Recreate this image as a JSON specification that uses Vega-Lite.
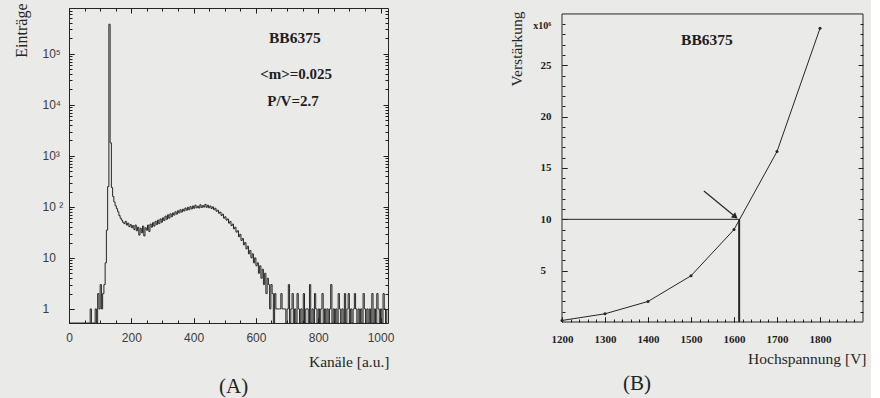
{
  "$schema": "https://vega.github.io/schema/vega-lite/v6.json",
  "background": "#eaeae8",
  "padding": {"left": 12, "top": 2, "right": 5, "bottom": 2},
  "bounds": "flush",
  "spacing": 174,
  "config": {
    "view": {"stroke": "#262626", "strokeWidth": 1},
    "axis": {
      "domain": false, "grid": false, "labelFlush": false, "labelOverlap": false,
      "tickColor": "#1e1e1e", "tickWidth": 1,
      "gridColor": "#1e1e1e", "gridWidth": 1, "gridOpacity": 1,
      "labelColor": "#3c3c3c", "titleColor": "#262626",
      "titleFont": "Liberation Serif", "titleFontWeight": "normal", "titleFontSize": 15.5
    }
  },
  "hconcat": [
    {
      "width": 319, "height": 315,
      "title": {"text": "(A)", "orient": "bottom", "frame": "group", "anchor": "start", "dx": 150, "offset": 6,
        "font": "Liberation Serif", "fontSize": 21, "fontWeight": "normal", "color": "#222222"},
      "data": {"values": [
        {"k":0,"n":0},{"k":4,"n":0},{"k":8,"n":0},{"k":12,"n":0},{"k":16,"n":0},{"k":20,"n":0},{"k":24,"n":0},{"k":28,"n":0},
        {"k":32,"n":0},{"k":36,"n":0},{"k":40,"n":0},{"k":44,"n":0},{"k":48,"n":0},{"k":52,"n":0},{"k":56,"n":0},{"k":60,"n":0},
        {"k":64,"n":0},{"k":68,"n":1},{"k":72,"n":0},{"k":76,"n":0},{"k":80,"n":0},{"k":84,"n":1},{"k":88,"n":0},{"k":92,"n":2},
        {"k":96,"n":1},{"k":100,"n":3},{"k":104,"n":1},{"k":108,"n":2},{"k":112,"n":3},{"k":116,"n":8},{"k":120,"n":35},{"k":124,"n":250},
        {"k":128,"n":380000},{"k":132,"n":1800},{"k":136,"n":240},{"k":140,"n":160},{"k":144,"n":125},{"k":148,"n":105},{"k":152,"n":92},{"k":156,"n":80},
        {"k":160,"n":68},{"k":164,"n":60},{"k":168,"n":55},{"k":172,"n":50},{"k":176,"n":47},{"k":180,"n":52},{"k":184,"n":44},{"k":188,"n":48},
        {"k":192,"n":41},{"k":196,"n":45},{"k":200,"n":39},{"k":204,"n":43},{"k":208,"n":36},{"k":212,"n":44},{"k":216,"n":34},{"k":220,"n":40},
        {"k":224,"n":28},{"k":228,"n":38},{"k":232,"n":31},{"k":236,"n":42},{"k":240,"n":27},{"k":244,"n":39},{"k":248,"n":35},{"k":252,"n":44},
        {"k":256,"n":33},{"k":260,"n":46},{"k":264,"n":40},{"k":268,"n":49},{"k":272,"n":42},{"k":276,"n":52},{"k":280,"n":45},{"k":284,"n":55},
        {"k":288,"n":47},{"k":292,"n":58},{"k":296,"n":50},{"k":300,"n":61},{"k":304,"n":54},{"k":308,"n":66},{"k":312,"n":57},{"k":316,"n":70},
        {"k":320,"n":60},{"k":324,"n":73},{"k":328,"n":64},{"k":332,"n":76},{"k":336,"n":69},{"k":340,"n":80},{"k":344,"n":72},{"k":348,"n":84},
        {"k":352,"n":76},{"k":356,"n":88},{"k":360,"n":79},{"k":364,"n":90},{"k":368,"n":83},{"k":372,"n":95},{"k":376,"n":86},{"k":380,"n":98},
        {"k":384,"n":88},{"k":388,"n":101},{"k":392,"n":91},{"k":396,"n":104},{"k":400,"n":94},{"k":404,"n":108},{"k":408,"n":96},{"k":412,"n":103},
        {"k":416,"n":95},{"k":420,"n":110},{"k":424,"n":97},{"k":428,"n":106},{"k":432,"n":99},{"k":436,"n":112},{"k":440,"n":98},{"k":444,"n":108},
        {"k":448,"n":96},{"k":452,"n":104},{"k":456,"n":93},{"k":460,"n":100},{"k":464,"n":88},{"k":468,"n":94},{"k":472,"n":82},{"k":476,"n":86},
        {"k":480,"n":75},{"k":484,"n":79},{"k":488,"n":68},{"k":492,"n":72},{"k":496,"n":60},{"k":500,"n":64},{"k":504,"n":55},{"k":508,"n":58},
        {"k":512,"n":48},{"k":516,"n":52},{"k":520,"n":43},{"k":524,"n":46},{"k":528,"n":37},{"k":532,"n":40},{"k":536,"n":32},{"k":540,"n":34},
        {"k":544,"n":26},{"k":548,"n":29},{"k":552,"n":22},{"k":556,"n":24},{"k":560,"n":18},{"k":564,"n":20},{"k":568,"n":15},{"k":572,"n":17},
        {"k":576,"n":12},{"k":580,"n":14},{"k":584,"n":10},{"k":588,"n":12},{"k":592,"n":8},{"k":596,"n":10},{"k":600,"n":7},{"k":604,"n":8},
        {"k":608,"n":5},{"k":612,"n":7},{"k":616,"n":4},{"k":620,"n":6},{"k":624,"n":3},{"k":628,"n":5},{"k":632,"n":2},{"k":636,"n":4},
        {"k":640,"n":3},{"k":644,"n":1},{"k":648,"n":3},{"k":652,"n":2},{"k":656,"n":0},{"k":660,"n":2},{"k":664,"n":1},{"k":668,"n":1},
        {"k":672,"n":1},{"k":676,"n":1},{"k":680,"n":2},{"k":684,"n":1},{"k":688,"n":1},{"k":692,"n":1},{"k":696,"n":0},{"k":700,"n":1},
        {"k":704,"n":3},{"k":708,"n":0},{"k":712,"n":1},{"k":716,"n":2},{"k":720,"n":0},{"k":724,"n":1},{"k":728,"n":0},{"k":732,"n":2},
        {"k":736,"n":1},{"k":740,"n":0},{"k":744,"n":1},{"k":748,"n":0},{"k":752,"n":2},{"k":756,"n":0},{"k":760,"n":1},{"k":764,"n":1},
        {"k":768,"n":0},{"k":772,"n":3},{"k":776,"n":0},{"k":780,"n":1},{"k":784,"n":0},{"k":788,"n":2},{"k":792,"n":1},{"k":796,"n":0},
        {"k":800,"n":1},{"k":804,"n":0},{"k":808,"n":1},{"k":812,"n":2},{"k":816,"n":0},{"k":820,"n":1},{"k":824,"n":0},{"k":828,"n":1},
        {"k":832,"n":0},{"k":836,"n":1},{"k":840,"n":3},{"k":844,"n":0},{"k":848,"n":1},{"k":852,"n":0},{"k":856,"n":1},{"k":860,"n":0},
        {"k":864,"n":2},{"k":868,"n":1},{"k":872,"n":0},{"k":876,"n":1},{"k":880,"n":0},{"k":884,"n":2},{"k":888,"n":0},{"k":892,"n":1},
        {"k":896,"n":2},{"k":900,"n":0},{"k":904,"n":1},{"k":908,"n":0},{"k":912,"n":1},{"k":916,"n":2},{"k":920,"n":1},{"k":924,"n":0},
        {"k":928,"n":1},{"k":932,"n":0},{"k":936,"n":1},{"k":940,"n":0},{"k":944,"n":2},{"k":948,"n":1},{"k":952,"n":0},{"k":956,"n":1},
        {"k":960,"n":0},{"k":964,"n":1},{"k":968,"n":0},{"k":972,"n":2},{"k":976,"n":0},{"k":980,"n":1},{"k":984,"n":0},{"k":988,"n":2},
        {"k":992,"n":1},{"k":996,"n":0},{"k":1000,"n":1},{"k":1004,"n":0},{"k":1008,"n":2},{"k":1012,"n":1},{"k":1016,"n":0},{"k":1020,"n":1}
      ]},
      "resolve": {"axis": {"x": "independent", "y": "independent"}},
      "layer": [
        {
          "mark": {"type": "point", "opacity": 0},
          "encoding": {
            "x": {"field": "k", "type": "quantitative", "scale": {"domain": [0, 1024], "nice": false, "zero": false},
              "axis": {"orient": "bottom", "values": [0, 200, 400, 600, 800, 1000], "grid": true, "gridDash": [5, 305, 5, 1000],
                "ticks": false, "labels": false, "title": null}},
            "y": {"field": "n", "type": "quantitative", "scale": {"type": "log", "domain": [0.53, 790000], "nice": false, "clamp": true},
              "axis": {"orient": "left", "values": [1, 10, 100, 1000, 10000, 100000], "grid": true, "gridDash": [5, 309, 5, 1000],
                "ticks": false, "labels": false, "title": null}}
          }
        },
        {
          "mark": {"type": "point", "opacity": 0},
          "encoding": {
            "x": {"field": "k", "type": "quantitative", "scale": {"domain": [0, 1024], "nice": false, "zero": false},
              "axis": {"orient": "bottom", "values": [50, 100, 150, 250, 300, 350, 450, 500, 550, 650, 700, 750, 850, 900, 950], "grid": true, "gridDash": [3, 309, 3, 1000],
                "ticks": false, "labels": false, "title": null}},
            "y": {"field": "n", "type": "quantitative", "scale": {"type": "log", "domain": [0.53, 790000], "nice": false, "clamp": true},
              "axis": {"orient": "left", "values": [2,3,4,5,6,7,8,9,20,30,40,50,60,70,80,90,200,300,400,500,600,700,800,900,2000,3000,4000,5000,6000,7000,8000,9000,20000,30000,40000,50000,60000,70000,80000,90000,200000,300000,400000,500000,600000,700000],
                "grid": true, "gridDash": [3, 313, 3, 1000], "ticks": false, "labels": false, "title": null}}
          }
        },
        {
          "mark": {"type": "line", "interpolate": "step-after", "color": "#262626", "strokeWidth": 1},
          "encoding": {
            "x": {"field": "k", "type": "quantitative",
              "scale": {"domain": [0, 1024], "nice": false, "zero": false},
              "axis": {"orient": "bottom", "values": [0, 200, 400, 600, 800, 1000], "format": "d", "offset": -5,
                "ticks": true, "tickSize": 5, "labelPadding": 9,
                "labelFont": "Liberation Sans", "labelFontSize": 12,
                "title": "Kanäle  [a.u.]", "titleAlign": "right", "titleX": 320, "titleY": 43, "titleBaseline": "middle"}},
            "y": {"field": "n", "type": "quantitative",
              "scale": {"type": "log", "domain": [0.53, 790000], "nice": false, "clamp": true},
              "axis": {"orient": "left", "values": [1, 10, 100, 1000, 10000, 100000], "offset": -5,
                "ticks": true, "tickSize": 5, "labelPadding": 27,
                "labelAlign": "left", "labelBaseline": "middle", "labelFont": "Liberation Sans", "labelFontSize": 12,
                "labelExpr": "datum.value == 1 ? '1' : datum.value == 10 ? '10' : datum.value == 100 ? '10 ²' : datum.value == 1000 ? '10³' : datum.value == 10000 ? '10⁴' : '10⁵'",
                "title": "Einträge", "titleAngle": -90, "titleAlign": "right", "titleBaseline": "middle", "titleX": -53, "titleY": -5, "titleFontSize": 16}}
          }
        },
        {
          "transform": [{"aggregate": [{"op": "count", "as": "cnt"}]}],
          "mark": {"type": "text", "font": "Liberation Serif", "fontWeight": "bold", "fontSize": 15.5, "color": "#1e1e1e", "align": "center", "baseline": "middle"},
          "encoding": {
            "x": {"datum": 725, "type": "quantitative", "axis": null},
            "y": {"datum": 204000, "type": "quantitative", "axis": null},
            "text": {"value": "BB6375"}
          }
        },
        {
          "transform": [{"aggregate": [{"op": "count", "as": "cnt"}]}],
          "mark": {"type": "text", "font": "Liberation Serif", "fontWeight": "bold", "fontSize": 15, "color": "#1e1e1e", "align": "center", "baseline": "middle"},
          "encoding": {
            "x": {"datum": 729, "type": "quantitative", "axis": null},
            "y": {"datum": 40000, "type": "quantitative", "axis": null},
            "text": {"value": "<m>=0.025"}
          }
        },
        {
          "transform": [{"aggregate": [{"op": "count", "as": "cnt"}]}],
          "mark": {"type": "text", "font": "Liberation Serif", "fontWeight": "bold", "fontSize": 15, "color": "#1e1e1e", "align": "center", "baseline": "middle"},
          "encoding": {
            "x": {"datum": 719, "type": "quantitative", "axis": null},
            "y": {"datum": 11900, "type": "quantitative", "axis": null},
            "text": {"value": "P/V=2.7"}
          }
        }
      ]
    },
    {
      "width": 301, "height": 314,
      "view": {"stroke": null},
      "title": {"text": "(B)", "orient": "bottom", "frame": "group", "anchor": "start", "dx": 61, "offset": 6,
        "font": "Liberation Serif", "fontSize": 21, "fontWeight": "normal", "color": "#222222"},
      "data": {"values": [
        {"hv": 1200, "gain": 0.15},
        {"hv": 1300, "gain": 0.8},
        {"hv": 1400, "gain": 2.0},
        {"hv": 1500, "gain": 4.5},
        {"hv": 1600, "gain": 9.0},
        {"hv": 1700, "gain": 16.6},
        {"hv": 1800, "gain": 28.6}
      ]},
      "resolve": {"axis": {"x": "independent", "y": "independent"}},
      "layer": [
        {
          "mark": {"type": "point", "opacity": 0},
          "encoding": {
            "x": {"field": "hv", "type": "quantitative", "scale": {"domain": [1200, 1900], "nice": false, "zero": false},
              "axis": {"orient": "top", "values": [1200, 1300, 1400, 1500, 1600, 1700, 1800], "grid": true, "gridDash": [5, 1000],
                "ticks": false, "labels": false, "title": null}},
            "y": {"field": "gain", "type": "quantitative", "scale": {"domain": [0, 30.58], "nice": false, "zero": false},
              "axis": {"orient": "left", "values": [5, 10, 15, 20, 25], "grid": true, "gridDash": [5, 291, 5, 1000],
                "ticks": false, "labels": false, "title": null}}
          }
        },
        {
          "mark": {"type": "point", "opacity": 0},
          "encoding": {
            "x": {"field": "hv", "type": "quantitative", "scale": {"domain": [1200, 1900], "nice": false, "zero": false},
              "axis": {"orient": "top", "values": [1220,1240,1260,1280,1320,1340,1360,1380,1420,1440,1460,1480,1520,1540,1560,1580,1620,1640,1660,1680,1720,1740,1760,1780,1820,1840,1860,1880],
                "grid": true, "gridDash": [3, 1000], "ticks": false, "labels": false, "title": null}},
            "y": {"field": "gain", "type": "quantitative", "scale": {"domain": [0, 30.58], "nice": false, "zero": false},
              "axis": {"orient": "left", "values": [1,2,3,4,6,7,8,9,11,12,13,14,16,17,18,19,21,22,23,24,26,27,28,29],
                "grid": true, "gridDash": [3, 295, 3, 1000], "ticks": false, "labels": false, "title": null}}
          }
        },
        {
          "transform": [{"aggregate": [{"op": "count", "as": "cnt"}]}],
          "mark": {"type": "rect", "fillOpacity": 0, "stroke": "#262626", "strokeWidth": 1},
          "encoding": {
            "x": {"datum": 1200, "type": "quantitative", "scale": {"domain": [1200, 1900], "nice": false, "zero": false}, "axis": null},
            "x2": {"datum": 1900},
            "y": {"datum": 0, "type": "quantitative", "scale": {"domain": [0, 30.58], "nice": false, "zero": false}, "axis": null},
            "y2": {"datum": 30}
          }
        },
        {
          "mark": {"type": "line", "color": "#262626", "strokeWidth": 1, "point": {"filled": true, "size": 9, "color": "#262626"}},
          "encoding": {
            "x": {"field": "hv", "type": "quantitative", "scale": {"domain": [1200, 1900], "nice": false, "zero": false},
              "axis": {"orient": "bottom", "values": [1200, 1300, 1400, 1500, 1600, 1700, 1800], "format": "d", "offset": -5,
                "ticks": true, "tickSize": 5, "labelPadding": 11,
                "labelFont": "Liberation Serif", "labelFontWeight": "bold", "labelFontSize": 11, "labelColor": "#222222",
                "title": "Hochspannung [V]", "titleAlign": "right", "titleX": 304, "titleY": 41, "titleBaseline": "middle"}},
            "y": {"field": "gain", "type": "quantitative", "scale": {"domain": [0, 30.58], "nice": false, "zero": false},
              "axis": {"orient": "left", "values": [5, 10, 15, 20, 25], "offset": -5,
                "ticks": true, "tickSize": 5, "labelPadding": 22,
                "labelAlign": "left", "labelBaseline": "middle",
                "labelFont": "Liberation Serif", "labelFontWeight": "bold", "labelFontSize": 11, "labelColor": "#222222",
                "title": "Verstärkung", "titleAngle": -90, "titleAlign": "right", "titleBaseline": "middle", "titleX": -51, "titleY": 3}}
          }
        },
        {
          "transform": [{"aggregate": [{"op": "count", "as": "cnt"}]}],
          "mark": {"type": "rule", "color": "#262626", "strokeWidth": 1},
          "encoding": {
            "x": {"datum": 1200, "type": "quantitative", "axis": null},
            "x2": {"datum": 1612},
            "y": {"datum": 10, "type": "quantitative", "axis": null}
          }
        },
        {
          "transform": [{"aggregate": [{"op": "count", "as": "cnt"}]}],
          "mark": {"type": "rule", "color": "#262626", "strokeWidth": 2},
          "encoding": {
            "x": {"datum": 1612, "type": "quantitative", "axis": null},
            "y": {"datum": 0, "type": "quantitative", "axis": null},
            "y2": {"datum": 10}
          }
        },
        {
          "transform": [{"aggregate": [{"op": "count", "as": "cnt"}]}],
          "mark": {"type": "rule", "color": "#262626", "strokeWidth": 1.2},
          "encoding": {
            "x": {"datum": 1530, "type": "quantitative", "axis": null},
            "x2": {"datum": 1603},
            "y": {"datum": 12.76, "type": "quantitative", "axis": null},
            "y2": {"datum": 10.25}
          }
        },
        {
          "transform": [{"aggregate": [{"op": "count", "as": "cnt"}]}],
          "mark": {"type": "point", "shape": "triangle-right", "filled": true, "color": "#262626", "size": 45, "angle": 39.5, "opacity": 1},
          "encoding": {
            "x": {"datum": 1603, "type": "quantitative", "axis": null},
            "y": {"datum": 10.25, "type": "quantitative", "axis": null}
          }
        },
        {
          "transform": [{"aggregate": [{"op": "count", "as": "cnt"}]}],
          "mark": {"type": "text", "font": "Liberation Serif", "fontWeight": "bold", "fontSize": 15.5, "color": "#1e1e1e", "align": "center", "baseline": "middle"},
          "encoding": {
            "x": {"datum": 1537, "type": "quantitative", "axis": null},
            "y": {"datum": 27.5, "type": "quantitative", "axis": null},
            "text": {"value": "BB6375"}
          }
        },
        {
          "transform": [{"aggregate": [{"op": "count", "as": "cnt"}]}],
          "mark": {"type": "text", "font": "Liberation Serif", "fontWeight": "bold", "fontSize": 10, "color": "#1e1e1e", "align": "left", "baseline": "middle"},
          "encoding": {
            "x": {"datum": 1133, "type": "quantitative", "axis": null},
            "y": {"datum": 28.8, "type": "quantitative", "axis": null},
            "text": {"value": "x10⁶"}
          }
        }
      ]
    }
  ]
}
